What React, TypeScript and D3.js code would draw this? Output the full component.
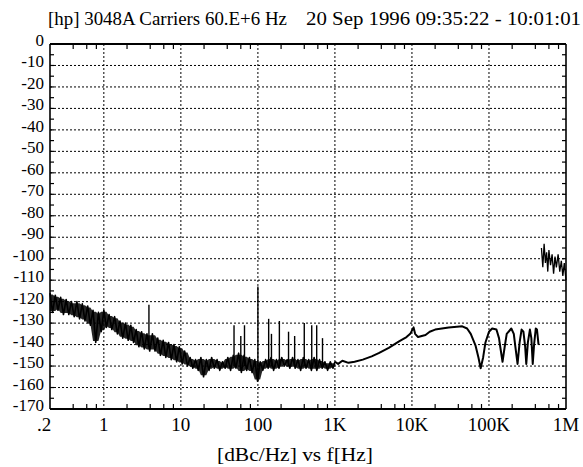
import React from "react";
import * as d3 from "d3";

const W = 583;
const H = 467;

const titleLeft = "[hp] 3048A Carriers  60.E+6 Hz";
const titleRight = "20 Sep 1996  09:35:22 - 10:01:01";
const axisTitle = "[dBc/Hz]  vs  f[Hz]";

const yTicks = [0, -10, -20, -30, -40, -50, -60, -70, -80, -90, -100, -110, -120, -130, -140, -150, -160, -170];
const xTickValues = [0.2, 1, 10, 100, 1e3, 1e4, 1e5, 1e6];
const xTickLabels = [".2", "1", "10", "100", "1K", "10K", "100K", "1M"];
const decadeGrid = [1, 10, 100, 1e3, 1e4, 1e5];
const minorMultipliers = [2, 4, 6, 8];

// low-frequency noisy trace (0.2 Hz .. 1 kHz)
const noisyHz = [
  0.2, 0.216, 0.234, 0.254, 0.275, 0.299, 0.324, 0.351, 0.38, 0.412, 0.447, 0.484, 0.525, 0.569, 0.617, 0.668, 0.724, 0.785, 0.851, 0.923,
  1.0, 1.08, 1.17, 1.27, 1.38, 1.5, 1.62, 1.76, 1.91, 2.07, 2.24, 2.43, 2.63, 2.85, 3.09, 3.35, 3.63, 3.94, 4.27, 4.62,
  5.01, 5.43, 5.89, 6.38, 6.92, 7.5, 8.13, 8.81, 9.55, 10.4, 11.2, 12.2, 13.2, 14.3, 15.5, 16.8, 18.2, 19.7, 21.4, 23.2,
  25.1, 27.2, 29.5, 32.0, 34.7, 37.6, 40.7, 44.2, 47.9, 51.9, 56.2, 61.0, 66.1, 71.6, 77.6, 84.1, 91.2, 98.9, 107, 116,
  126, 136, 148, 160, 174, 188, 204, 221, 240, 260, 282, 305, 331, 359, 389, 422, 457, 495, 537, 582,
  631, 684, 741, 804, 871, 944, 1000,
];
const noisyDb = [
  -116, -125, -117, -124, -118, -126, -119, -126, -120, -127, -120, -128, -121, -129, -122, -131, -124, -139, -125, -134,
  -124, -132, -126, -133, -127, -135, -129, -137, -130, -138, -131, -139, -133, -141, -134, -142, -135, -143, -135, -143,
  -137, -145, -138, -146, -139, -147, -140, -148, -141, -149, -143, -150, -146, -151, -147, -152, -146, -155, -147, -152,
  -146, -151, -147, -152, -148, -151, -146, -152, -145, -151, -144, -153, -145, -152, -146, -153, -147, -157, -148, -152,
  -147, -151, -146, -152, -147, -151, -146, -150, -147, -151, -146, -151, -147, -152, -146, -151, -147, -152, -146, -152,
  -147, -151, -148, -152, -148, -151, -148,
];

// discrete spurs (Hz, top dB, base dB)
const spurHz = [3.85, 49, 60, 67, 100, 138, 150, 190, 250, 300, 400, 500, 580, 690];
const spurTopDb = [-121.5, -131, -136, -131, -113, -128, -135, -129, -134, -136, -130, -131, -131, -137];
const spurBaseDb = [-141, -150, -150, -150, -157, -150, -150, -150, -150, -150, -150, -150, -150, -150];

// smooth trace (1 kHz .. 440 kHz)
const smoothHz = [
  1000, 1100, 1250, 1500, 1800, 2300, 3000, 3700, 5000, 6800, 8500, 9500, 10500, 11000, 12000, 15000, 17000, 20000, 30000, 45000,
  52000, 58000, 67000, 73000, 78000, 84000, 90000, 100000, 110000, 125000, 135000, 140000, 150000, 160000, 170000, 195000, 210000, 220000, 235000, 250000,
  265000, 280000, 295000, 305000, 320000, 340000, 355000, 370000, 385000, 405000, 420000, 440000,
];
const smoothDb = [
  -148, -149, -147.5, -148.5, -148, -147, -145.5, -144, -141.5, -138.5, -136.5, -135, -132, -135, -136.5, -135.5, -134, -133, -132, -131.5,
  -132.5, -135, -140.5, -146, -151, -146, -139, -134, -132.5, -133, -137, -141, -148, -141, -135, -132.5, -135, -141, -149, -139,
  -133, -134, -141, -149, -139, -133, -137, -149, -140, -132.5, -133, -140,
];

// high-frequency noisy cluster (480 kHz .. 1 MHz)
const clusterHz = [480e3, 500e3, 520e3, 540e3, 560e3, 580e3, 600e3, 630e3, 660e3, 690e3, 720e3, 750e3, 790e3, 830e3, 870e3, 910e3, 950e3, 1000e3];
const clusterDb = [-95, -104, -93, -102, -97, -106, -96, -103, -98, -107, -99, -104, -98, -106, -101, -108, -102, -110];

const M = { left: 50, right: 566, top: 44, bottom: 409 };

export default function App() {
  const x = d3.scaleLog().domain([0.2, 1e6]).range([M.left, M.right]);
  const y = d3.scaleLinear().domain([0, -170]).range([M.top, M.bottom]);

  const line = d3
    .line<[number, number]>()
    .x((d) => x(d[0]))
    .y((d) => y(d[1]));

  const noisy = noisyHz.map((f, i) => [f, noisyDb[i]] as [number, number]);
  const smooth = smoothHz.map((f, i) => [f, smoothDb[i]] as [number, number]);
  const cluster = clusterHz.map((f, i) => [f, clusterDb[i]] as [number, number]);

  // envelope band between neighbouring samples of the noisy trace
  const bandPts = noisyHz.map((f, i) => {
    const a = noisyDb[Math.max(0, i - 1)];
    const b = noisyDb[i];
    const c = noisyDb[Math.min(noisyDb.length - 1, i + 1)];
    return { f, hi: Math.max(a, b, c), lo: Math.min(a, b, c) };
  });
  const band = d3
    .area<{ f: number; hi: number; lo: number }>()
    .x((d) => x(d.f))
    .y0((d) => y(d.lo) - 1.5)
    .y1((d) => y(d.hi) + 1.5);

  const minorTicks: number[] = [];
  [0.1, 1, 10, 100, 1e3, 1e4, 1e5].forEach((dec) => {
    minorMultipliers.forEach((m) => {
      const v = dec * m;
      if (v > 0.2 && v < 1e6) minorTicks.push(v);
    });
  });
  const yMinor = d3.range(0, -171, -5);

  const font = "Liberation Serif, DejaVu Serif, serif";

  return (
    <svg
      width={W}
      height={H}
      style={{ position: "absolute", left: 0, top: 0, background: "#fff", fontFamily: font }}
    >
      <rect width={W} height={H} fill="#fff" />
      {/* titles */}
      <text x={48} y={25} fontSize={18} textLength={239} lengthAdjust="spacingAndGlyphs" style={{ fontFamily: font }}>
        {titleLeft}
      </text>
      <text x={306} y={25} fontSize={18} textLength={275} lengthAdjust="spacingAndGlyphs" style={{ fontFamily: font }}>
        {titleRight}
      </text>

      {/* grid */}
      <g stroke="#000" strokeWidth={1} strokeDasharray="2,2">
        {yTicks.slice(1, -1).map((v) => (
          <line key={"gy" + v} x1={M.left} x2={M.right} y1={y(v)} y2={y(v)} />
        ))}
        {decadeGrid.map((v) => (
          <line key={"gx" + v} x1={x(v)} x2={x(v)} y1={M.top} y2={M.bottom} />
        ))}
      </g>

      {/* minor ticks */}
      <g stroke="#000" strokeWidth={1.2}>
        {minorTicks.map((v) => (
          <g key={"mt" + v}>
            <line x1={x(v)} x2={x(v)} y1={M.bottom} y2={M.bottom - 5} />
            <line x1={x(v)} x2={x(v)} y1={M.top} y2={M.top + 5} />
          </g>
        ))}
        {yMinor.map((v) => (
          <g key={"ym" + v}>
            <line x1={M.left} x2={M.left + 4} y1={y(v)} y2={y(v)} />
            <line x1={M.right} x2={M.right - 4} y1={y(v)} y2={y(v)} />
          </g>
        ))}
      </g>

      {/* frame */}
      <line x1={M.left} x2={M.right} y1={M.top} y2={M.top} stroke="#000" strokeWidth={2} />
      <line x1={M.left} x2={M.right} y1={M.bottom} y2={M.bottom} stroke="#000" strokeWidth={2.2} />
      <line x1={M.left} x2={M.left} y1={M.top} y2={M.bottom} stroke="#000" strokeWidth={1.6} />
      <line x1={M.right} x2={M.right} y1={M.top} y2={M.bottom} stroke="#000" strokeWidth={1.6} />

      {/* y labels */}
      {yTicks.map((v) => (
        <text key={"yl" + v} x={44} y={y(v) + 2} fontSize={17} textAnchor="end" style={{ fontFamily: font }}>
          {v}
        </text>
      ))}
      {/* x labels */}
      {xTickValues.map((v, i) => (
        <text key={"xl" + v} x={x(v) + (i === 0 ? -6 : 0)} y={431} fontSize={19} textAnchor="middle" style={{ fontFamily: font }}>
          {xTickLabels[i]}
        </text>
      ))}
      <text x={295} y={461} fontSize={18} textAnchor="middle" textLength={156} lengthAdjust="spacingAndGlyphs" style={{ fontFamily: font }}>
        {axisTitle}
      </text>

      {/* traces */}
      <path d={band(bandPts) || ""} fill="#000" fillOpacity={0.85} stroke="none" />
      <path d={line(noisy) || ""} fill="none" stroke="#000" strokeWidth={1.6} strokeLinejoin="round" />
      <g stroke="#000" strokeWidth={1.4}>
        {spurHz.map((f, i) => (
          <line key={"sp" + f} x1={x(f)} x2={x(f)} y1={y(spurTopDb[i])} y2={y(spurBaseDb[i])} />
        ))}
      </g>
      <path d={line(smooth) || ""} fill="none" stroke="#000" strokeWidth={2} strokeLinejoin="round" />
      <path d={line(cluster) || ""} fill="none" stroke="#000" strokeWidth={1.3} />
    </svg>
  );
}
